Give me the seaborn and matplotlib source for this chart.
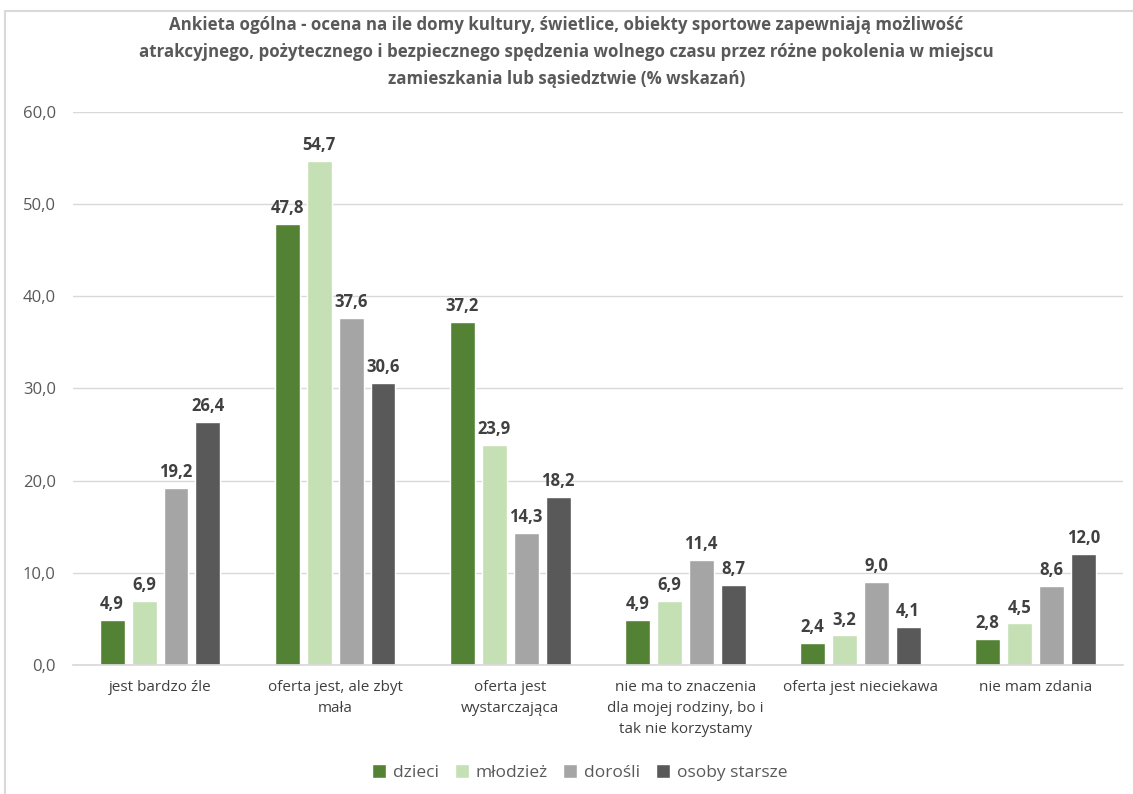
import pandas as pd
import matplotlib.pyplot as plt
import seaborn as sns

categories = [
    "jest bardzo źle",
    "oferta jest, ale zbyt\nmała",
    "oferta jest\nwystarczająca",
    "nie ma to znaczenia\ndla mojej rodziny, bo i\ntak nie korzystamy",
    "oferta jest nieciekawa",
    "nie mam zdania",
]
groups = ["dzieci", "młodzież", "dorośli", "osoby starsze"]
dzieci = [4.9, 47.8, 37.2, 4.9, 2.4, 2.8]
mlodziez = [6.9, 54.7, 23.9, 6.9, 3.2, 4.5]
dorosli = [19.2, 37.6, 14.3, 11.4, 9.0, 8.6]
starsi = [26.4, 30.6, 18.2, 8.7, 4.1, 12.0]
colors = ["#548235", "#C5E0B4", "#A5A5A5", "#595959"]

rows = []
for g, vals in zip(groups, [dzieci, mlodziez, dorosli, starsi]):
    for c, v in zip(categories, vals):
        rows.append({"kategoria": c, "grupa": g, "wartosc": v})
df = pd.DataFrame(rows)

sns.set_theme(style="white")
plt.rcParams["font.family"] = ["Open Sans", "DejaVu Sans"]

fig = plt.figure(figsize=(11.33, 7.94), dpi=100)
ax = fig.add_axes([0.064, 0.1625, 0.927, 0.6965])

sns.barplot(data=df, x="kategoria", y="wartosc", hue="grupa", order=categories,
            hue_order=groups, palette=colors, width=0.73, gap=0.22, ax=ax,
            errorbar=None, saturation=1)

for cont in ax.containers:
    ax.bar_label(cont, labels=[f"{v:.1f}".replace(".", ",") for v in cont.datavalues],
                 padding=5, fontsize=12, fontweight="bold", color="#404040")

ax.set_ylim(0, 60)
ax.set_yticks(range(0, 61, 10))
ax.set_yticklabels([f"{v},0" for v in range(0, 61, 10)], fontsize=12, color="#595959")
ax.set_xticks(range(len(categories)))
ax.set_xticklabels(categories, linespacing=1.55)
ax.tick_params(axis="x", labelsize=11, labelcolor="#404040", length=0, pad=11)
ax.tick_params(axis="y", length=0, pad=12)
ax.yaxis.grid(True, color="#D9D9D9", linewidth=1)
ax.set_axisbelow(True)
for s in ["left", "right", "top"]:
    ax.spines[s].set_visible(False)
ax.spines["bottom"].set_color("#D9D9D9")
ax.set_xlabel("")
ax.set_ylabel("")

ax.legend(loc="center", bbox_to_anchor=(0.483, -0.195), ncol=4, frameon=False,
          fontsize=12.5, handlelength=0.8, handleheight=0.8, columnspacing=0.9,
          handletextpad=0.4, labelcolor="#595959")

fig.text(0.5, 0.9345,
         "Ankieta ogólna - ocena na ile domy kultury, świetlice, obiekty sportowe zapewniają możliwość\n"
         "atrakcyjnego, pożytecznego i bezpiecznego spędzenia wolnego czasu przez różne pokolenia w miejscu\n"
         "zamieszkania lub sąsiedztwie (% wskazań)",
         ha="center", va="center", fontsize=12.2, fontweight="bold", color="#595959",
         linespacing=1.65)

fig.patches.append(plt.Rectangle((0.004, -0.01), 1.0, 0.996, transform=fig.transFigure,
                                 fill=False, edgecolor="#D9D9D9", linewidth=1.5))

fig.savefig("out.png", dpi=100)
